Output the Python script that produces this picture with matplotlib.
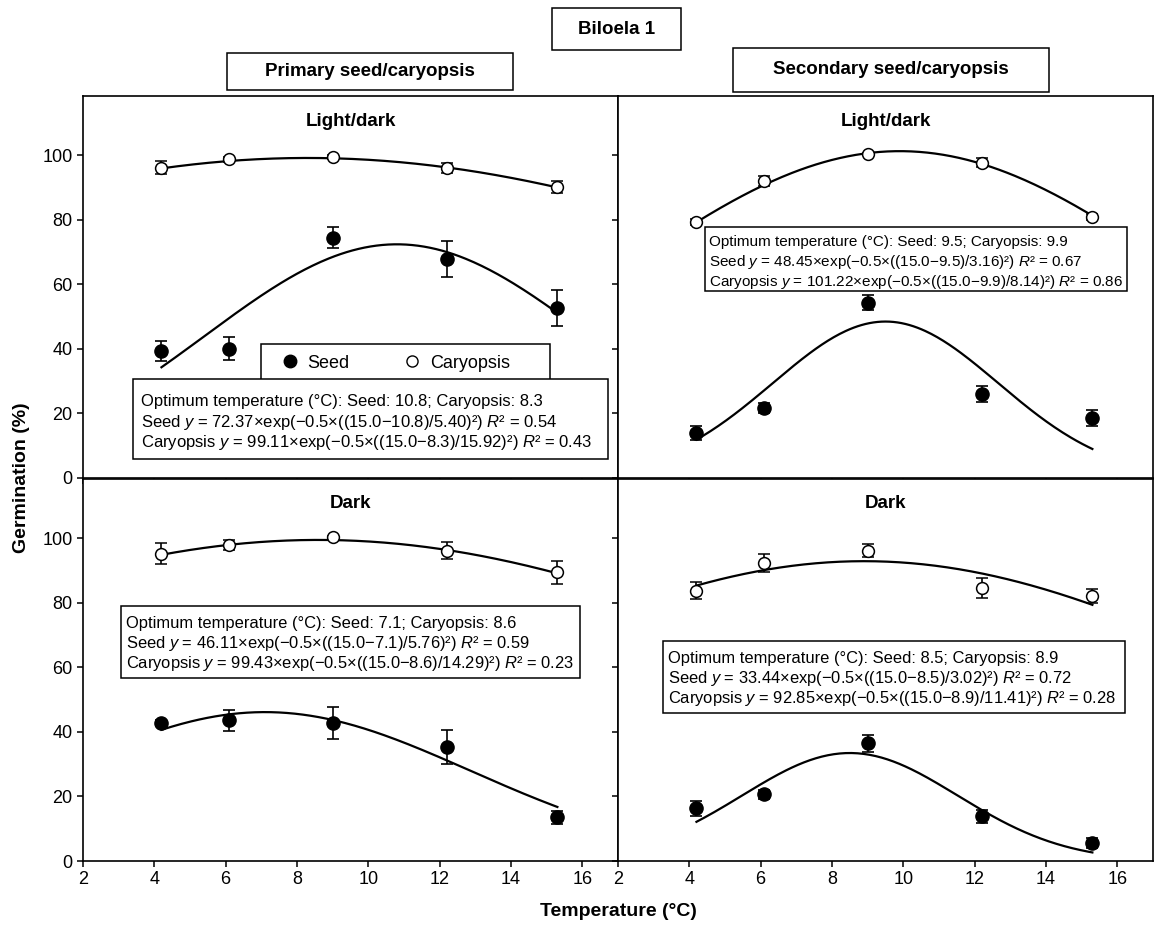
import numpy as np
import matplotlib
matplotlib.use("Agg")
import matplotlib.pyplot as plt
from matplotlib.lines import Line2D
from matplotlib.patches import Rectangle

plt.rcParams['font.family'] = ['Liberation Sans', 'DejaVu Sans']
plt.rcParams['mathtext.fontset'] = 'custom'
plt.rcParams['mathtext.rm'] = 'Liberation Sans'
plt.rcParams['mathtext.it'] = 'Liberation Sans:italic'

# temperatures (°C)
temps = [4.2, 6.1, 9.0, 12.2, 15.3]

# primary, light/dark
p_ld_seed = [39.3, 40.1, 74.4, 67.7, 52.7]
p_ld_seed_err = [3.0, 3.7, 3.3, 5.6, 5.5]
p_ld_cary = [96.1, 98.7, 99.4, 96.1, 90.2]
p_ld_cary_err = [2.0, 0.8, 0.5, 1.5, 1.8]
# secondary, light/dark
s_ld_seed = [13.9, 21.7, 54.3, 26.0, 18.6]
s_ld_seed_err = [2.2, 1.5, 2.3, 2.5, 2.5]
s_ld_cary = [79.3, 91.9, 100.3, 97.7, 80.9]
s_ld_cary_err = [0.8, 1.5, 0.3, 1.5, 1.0]
# primary, dark
p_d_seed = [42.7, 43.6, 42.8, 35.3, 13.5]
p_d_seed_err = [1.0, 3.3, 5.0, 5.2, 2.0]
p_d_cary = [95.2, 97.8, 100.4, 96.1, 89.4]
p_d_cary_err = [3.2, 1.6, 0.3, 2.7, 3.5]
# secondary, dark
s_d_seed = [16.3, 20.6, 36.4, 13.9, 5.5]
s_d_seed_err = [2.3, 1.5, 2.7, 2.0, 1.5]
s_d_cary = [83.7, 92.2, 96.1, 84.6, 82.0]
s_d_cary_err = [2.7, 2.8, 2.0, 3.1, 2.2]

# gaussian fit parameters (a, optimum, width) as printed on the chart
p_ld_seed_fit = (72.37, 10.8, 5.40)
p_ld_cary_fit = (99.11, 8.3, 15.92)
s_ld_seed_fit = (48.45, 9.5, 3.16)
s_ld_cary_fit = (101.22, 9.9, 8.14)
p_d_seed_fit = (46.11, 7.1, 5.76)
p_d_cary_fit = (99.43, 8.6, 14.29)
s_d_seed_fit = (33.44, 8.5, 3.02)
s_d_cary_fit = (92.85, 8.9, 11.41)

r2_p_ld = (0.54, 0.43)
r2_s_ld = (0.67, 0.86)
r2_p_d = (0.59, 0.23)
r2_s_d = (0.72, 0.28)


def eq_lines(sf, cf, r):
    return ["Optimum temperature (°C): Seed: %.1f; Caryopsis: %.1f" % (sf[1], cf[1]),
            "Seed $y$ = %.2f×exp(−0.5×((15.0−%.1f)/%.2f)²) $R$² = %.2f" % (sf[0], sf[1], sf[2], r[0]),
            "Caryopsis $y$ = %.2f×exp(−0.5×((15.0−%.1f)/%.2f)²) $R$² = %.2f" % (cf[0], cf[1], cf[2], r[1])]


def gauss(x, p):
    return p[0] * np.exp(-0.5 * ((x - p[1]) / p[2]) ** 2)


W, H = 1157, 933
fig = plt.figure(figsize=(W / 100, H / 100), dpi=100)


def fx(px):
    return px / W


def fy(py):
    return 1 - py / H


axw = 535 / W
axh = 382 / H
lefts = [83 / W, 618 / W]
bottoms = [1 - 478 / H, 1 - 861 / H]

# box (x0, y0, x1, y1) in pixels, text x, first line centre, line step, font size
panels = [
    (0, 0, "Light/dark", p_ld_seed, p_ld_seed_err, p_ld_cary, p_ld_cary_err, p_ld_seed_fit, p_ld_cary_fit, r2_p_ld,
     (133, 379, 608, 459), 141, 400, 20.5, 12),
    (0, 1, "Light/dark", s_ld_seed, s_ld_seed_err, s_ld_cary, s_ld_cary_err, s_ld_seed_fit, s_ld_cary_fit, r2_s_ld,
     (705, 227, 1127, 291), 709, 240, 20, 11),
    (1, 0, "Dark", p_d_seed, p_d_seed_err, p_d_cary, p_d_cary_err, p_d_seed_fit, p_d_cary_fit, r2_p_d,
     (121, 606, 580, 678), 126, 622, 20, 11.9),
    (1, 1, "Dark", s_d_seed, s_d_seed_err, s_d_cary, s_d_cary_err, s_d_seed_fit, s_d_cary_fit, r2_s_d,
     (663, 641, 1125, 713), 668, 657, 20, 11.9),
]

xs = np.linspace(temps[0], temps[-1], 200)
for row, col, title, sd, sde, cd, cde, sfit, cfit, r, box, tx, ty, step, fs in panels:
    ax = fig.add_axes([lefts[col], bottoms[row], axw, axh])
    ax.plot(xs, gauss(xs, sfit), color="black", lw=1.6, zorder=2)
    ax.plot(xs, gauss(xs, cfit), color="black", lw=1.6, zorder=2)
    ax.errorbar(temps, sd, yerr=sde, fmt="o", color="black", ms=9.5, mfc="black",
                ecolor="black", elinewidth=1.2, capsize=4, capthick=1.2, zorder=3)
    ax.errorbar(temps, cd, yerr=cde, fmt="o", color="black", ms=8.5, mfc="white", mew=1.1,
                ecolor="black", elinewidth=1.2, capsize=4, capthick=1.2, zorder=3)
    ax.set_xlim(2, 17)
    ax.set_ylim(0, 118.3)
    ax.set_xticks(range(2, 17, 2))
    ax.set_yticks(range(0, 101, 20))
    ax.tick_params(direction="out", length=4, width=1.1, labelsize=13)
    if row == 0:
        ax.tick_params(labelbottom=False)
    if col == 1:
        ax.tick_params(labelleft=False)
    for s in ax.spines.values():
        s.set_linewidth(1.2)
    ax.text(0.5, 1 - 25 / 382, title, transform=ax.transAxes, ha="center", va="center",
            fontsize=13.5, fontweight="bold")
    if row == 0 and col == 0:
        # legend frame partly hidden behind the equation box
        ax.add_patch(Rectangle(((261 - 83) / 535, (478 - 385) / 382), (550 - 261) / 535, (385 - 344) / 382,
                               transform=ax.transAxes, fc="white", ec="black", lw=1.1, zorder=4))
        handles = [Line2D([], [], ls="none", marker="o", color="black", mfc="black", ms=9),
                   Line2D([], [], ls="none", marker="o", color="black", mfc="white", ms=8)]
        leg = ax.legend(handles, ["Seed", "Caryopsis"], ncol=2, loc="center left",
                        bbox_to_anchor=((281 - 83) / 535, (478 - 363) / 382), borderaxespad=0,
                        frameon=False, fontsize=13, handletextpad=0.45, columnspacing=3.0,
                        borderpad=0, handlelength=1.0)
        leg.set_zorder(5)

    # equation box
    x0, y0, x1, y1 = box
    fig.add_artist(Rectangle((fx(x0), fy(y1)), (x1 - x0) / W, (y1 - y0) / H,
                             transform=fig.transFigure, fc="white", ec="black", lw=1.1, zorder=5))
    for i, line in enumerate(eq_lines(sfit, cfit, r)):
        fig.text(fx(tx), fy(ty + i * step + 6), line, ha="left", va="baseline",
                 fontsize=fs, zorder=6)

fig.text(22 / W, 1 - 478 / H, "Germination (%)", rotation=90, ha="center", va="center",
         fontsize=14, fontweight="bold")
fig.text(618 / W, 1 - 912 / H, "Temperature (°C)", ha="center", va="center",
         fontsize=14, fontweight="bold")

# header boxes
headers = [("Biloela 1", 552, 8, 681, 50),
           ("Primary seed/caryopsis", 227, 53, 513, 90),
           ("Secondary seed/caryopsis", 733, 48, 1049, 92)]
for label, x0, y0, x1, y1 in headers:
    fig.add_artist(Rectangle((fx(x0), fy(y1)), (x1 - x0) / W, (y1 - y0) / H,
                             transform=fig.transFigure, fc="white", ec="black", lw=1.1))
    fig.text((x0 + x1) / 2 / W, 1 - (y0 + y1) / 2 / H, label, ha="center", va="center",
             fontsize=13.5, fontweight="bold")

fig.savefig("out.png", dpi=100)
